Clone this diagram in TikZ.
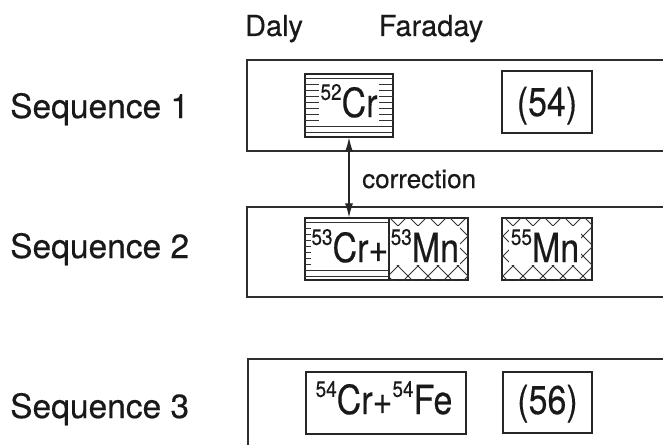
\documentclass[tikz,border=0pt]{standalone}
\usepackage{fontspec}
\setmainfont{TeX Gyre Heros}[FakeBold=0.35]
\newfontfamily\heros{TeX Gyre Heros}[FakeBold=0.35]
\usetikzlibrary{arrows.meta}

% isotope: mass number raised before the element symbol
\newcommand\iso[2]{\raisebox{14.5pt}{\fontsize{19}{19}\selectfont #1}#2}
% the cell texts are set slightly condensed (taller than wide)
\newcommand\tallbox[1]{\scalebox{1}[1.18]{#1}}

\begin{document}
\begin{tikzpicture}[x=1pt,y=-1pt,
  rowframe/.style={draw=black!82,line width=1.6pt,inner sep=0pt,anchor=north west},
  cell/.style={draw=black!85,line width=1.3pt,inner sep=0pt},
  seqlabel/.style={text=black!90,font=\heros\fontsize{33.5}{36}\selectfont,inner sep=0pt,anchor=base west},
  colhead/.style={text=black!90,font=\heros\fontsize{29}{31}\selectfont,inner sep=0pt,anchor=base},
  txt/.style={fill=white,text=black!90,font=\heros\fontsize{34}{36}\selectfont,inner xsep=1.5pt,inner ysep=3pt},
  hatch/.style={black!80,line width=0.8pt},
  link/.style={black!85,line width=1.1pt,<->,>={Latex[length=14pt,width=8pt]}}]

\useasboundingbox (0,0) rectangle (663,444);
\clip (0,0) rectangle (663,444);

% column headings
\node[colhead] (daly) at (274,36) {Daly};
\node[colhead] (faraday) at (431,36) {Faraday};

% row labels
\node[seqlabel] (s1) at (10,118) {Sequence 1};
\node[seqlabel] (s2) at (10,258) {Sequence 2};
\node[seqlabel] (s3) at (10,418) {Sequence 3};

% row frames (open to the right)
\node[rowframe, minimum width=460pt, minimum height=91pt] (row1) at (246,59) {};
\node[rowframe, minimum width=460pt, minimum height=90pt] (row2) at (246,206) {};
\node[rowframe, minimum width=460pt, minimum height=120pt] (row3) at (247,358) {};

% detector cells
\node[cell, minimum width=88pt, minimum height=63pt] (cr52) at (349,105.5) {};
\node[cell, minimum width=90pt, minimum height=62pt] (n54) at (547,102) {};
\node[cell, minimum width=84pt, minimum height=62pt] (crL) at (347,249) {};
\node[cell, minimum width=79pt, minimum height=62pt] (crR) at (428.5,249) {};
\node[cell, minimum width=90pt, minimum height=62pt] (mn55) at (547,249) {};
\node[cell, minimum width=160pt, minimum height=62pt] (crfe) at (386,403) {};
\node[cell, minimum width=89pt, minimum height=61pt] (n56) at (547.5,402.5) {};

% horizontal hatching (Cr)
\begin{scope}
  \clip (cr52.north west) rectangle (cr52.south east);
  \foreach \k in {0,...,10} \draw[hatch] (300,{78+6*\k}) -- (400,{78+6*\k});
\end{scope}
\begin{scope}
  \clip (crL.north west) rectangle (crL.south east);
  \foreach \k in {0,...,10} \draw[hatch] (300,{222+6*\k}) -- (400,{222+6*\k});
\end{scope}

% cross hatching (Mn)
\begin{scope}
  \clip (crR.north west) rectangle (crR.south east);
  \foreach \k in {-6,...,6} {
    \draw[hatch] ({398+20*\k-60},166) -- ({398+20*\k+60},286);
    \draw[hatch] ({398+20*\k+60},166) -- ({398+20*\k-60},286);
  }
\end{scope}
\begin{scope}
  \clip (mn55.north west) rectangle (mn55.south east);
  \foreach \k in {-6,...,6} {
    \draw[hatch] ({513+20*\k-60},166) -- ({513+20*\k+60},286);
    \draw[hatch] ({513+20*\k+60},166) -- ({513+20*\k-60},286);
  }
\end{scope}

% cell texts
\node[txt, anchor=base] (t52) at (349,117) {\tallbox{\iso{52}{Cr}}};
\node[txt, anchor=base] (t54) at (547,116) {\tallbox{(54)}};
\node[txt, anchor=base east, inner xsep=0pt] (tcr) at (388.5,262) {\tallbox{\iso{53}{Cr+}}};
\node[txt, anchor=base west, inner xsep=0.5pt] (tmn) at (390,262) {\tallbox{\iso{53}{Mn}}};
\node[txt, anchor=base] (t55) at (545,262) {\tallbox{\iso{55}{Mn}}};
\node[txt, anchor=base] (tfe) at (384,414) {\tallbox{\iso{54}{Cr+}\iso{54}{Fe}}};
\node[txt, anchor=base] (t56) at (547.5,414) {\tallbox{(56)}};

% divider between the Cr and Mn halves
\draw[cell] (crL.north east) -- (crL.south east);

% correction link
\draw[link] (cr52.south) -- (cr52.south |- crL.north);
\node[anchor=base west, text=black!90, font=\heros\fontsize{26}{28}\selectfont, inner sep=0pt] (corr) at (362,188) {correction};

\end{tikzpicture}
\end{document}
